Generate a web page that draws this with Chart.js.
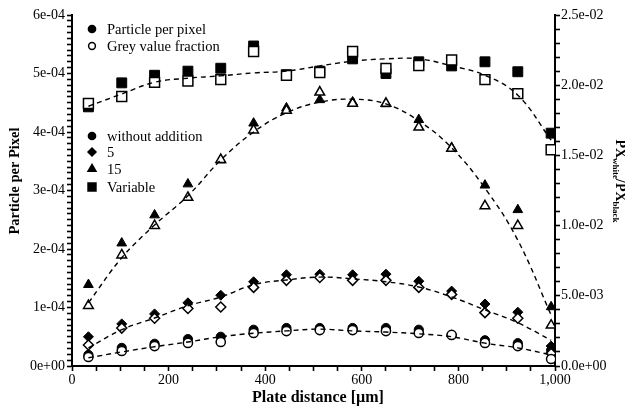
<!DOCTYPE html>
<html>
<head>
<meta charset="utf-8">
<script src="https://cdn.jsdelivr.net/npm/chart.js@4.4.1/dist/chart.umd.min.js"></script>
<style>
    body { margin: 0; background: #fff; }
    canvas { display: block; }
</style>
</head>
<body>
<canvas id="plate" width="625" height="411"></canvas>
<script>
// plate distance in µm
const distance = [34, 103, 171, 240, 308, 376, 444, 513, 581, 650, 718, 786, 855, 923, 992]

// particle per pixel (left axis, filled markers)
const ppNone = [0.19e-4, 0.31e-4, 0.38e-4, 0.46e-4, 0.50e-4, 0.62e-4, 0.65e-4, 0.65e-4, 0.65e-4, 0.65e-4, 0.62e-4, 0.53e-4, 0.44e-4, 0.39e-4, 0.27e-4]
const pp5 = [0.50e-4, 0.72e-4, 0.89e-4, 1.08e-4, 1.21e-4, 1.44e-4, 1.56e-4, 1.57e-4, 1.56e-4, 1.57e-4, 1.45e-4, 1.28e-4, 1.06e-4, 0.92e-4, 0.34e-4]
const pp15 = [1.39e-4, 2.10e-4, 2.58e-4, 3.11e-4, 3.52e-4, 4.15e-4, 4.41e-4, 4.55e-4, 4.51e-4, 4.48e-4, 4.21e-4, 3.73e-4, 3.09e-4, 2.67e-4, 1.01e-4]
const ppVariable = [4.43e-4, 4.84e-4, 4.97e-4, 5.04e-4, 5.09e-4, 5.47e-4, 4.98e-4, 5.04e-4, 5.25e-4, 5.00e-4, 5.20e-4, 5.13e-4, 5.20e-4, 5.03e-4, 3.98e-4]

// grey value fraction PXwhite/PXblack (right axis, open markers)
const gvNone = [0.00064, 0.00107, 0.00142, 0.00164, 0.00171, 0.00235, 0.00249, 0.00256, 0.00256, 0.00249, 0.00235, 0.00221, 0.00164, 0.00142, 0.00050]
const gv5 = [0.0015, 0.0027, 0.0034, 0.0041, 0.0042, 0.0056, 0.0061, 0.0063, 0.0061, 0.0061, 0.0056, 0.0051, 0.0038, 0.0034, 0.0009]
const gv15 = [0.0043, 0.0079, 0.0100, 0.0120, 0.0147, 0.0168, 0.0182, 0.0195, 0.0187, 0.0187, 0.0170, 0.0155, 0.0114, 0.0100, 0.0029]
const gvVariable = [0.0187, 0.0192, 0.0202, 0.0203, 0.0204, 0.0224, 0.0207, 0.0209, 0.0224, 0.0212, 0.0214, 0.0218, 0.0204, 0.0194, 0.0154]

// dashed fit curves (left axis units)
const fitNone = [0.14e-4, 0.24e-4, 0.33e-4, 0.41e-4, 0.50e-4, 0.56e-4, 0.60e-4, 0.63e-4, 0.60e-4, 0.58e-4, 0.55e-4, 0.50e-4, 0.39e-4, 0.31e-4, 0.19e-4]
const fit5 = [0.31e-4, 0.62e-4, 0.82e-4, 1.03e-4, 1.18e-4, 1.39e-4, 1.47e-4, 1.52e-4, 1.49e-4, 1.44e-4, 1.35e-4, 1.18e-4, 0.96e-4, 0.74e-4, 0.44e-4]
const fit15 = [1.08e-4, 1.85e-4, 2.41e-4, 2.91e-4, 3.52e-4, 4.00e-4, 4.33e-4, 4.51e-4, 4.56e-4, 4.48e-4, 4.19e-4, 3.73e-4, 3.04e-4, 2.15e-4, 0.87e-4]
const fitVariable = [4.44e-4, 4.65e-4, 4.85e-4, 4.92e-4, 4.96e-4, 5.01e-4, 5.04e-4, 5.13e-4, 5.21e-4, 5.25e-4, 5.25e-4, 5.13e-4, 4.97e-4, 4.63e-4, 3.86e-4]

const serif = '"Liberation Serif", "Times New Roman", serif'

function pts(values) {
    return distance.map((x, i) => ({ x: x, y: values[i] }))
}

function sci(v, digits) {
    const parts = v.toExponential(digits).split('e')
    const n = Number(parts[1])
    return parts[0] + 'e' + (n < 0 ? '-' : '+') + String(Math.abs(n)).padStart(2, '0')
}

function fit(values) {
    return {
        data: pts(values),
        showLine: true,
        pointRadius: 0,
        borderColor: '#000',
        borderWidth: 1.4,
        borderDash: [5, 4],
        tension: 0.4,
        yAxisID: 'y',
        order: 0
    }
}

function marker(values, style, radius, open) {
    return {
        data: pts(values),
        pointStyle: style,
        pointRadius: radius,
        pointBackgroundColor: open ? '#fff' : '#000',
        pointBorderColor: '#000',
        pointBorderWidth: open ? 1.5 : 1,
        showLine: false,
        yAxisID: open ? 'y2' : 'y',
        order: open ? 1 : 2
    }
}

const extras = {
    id: 'extras',
    afterDraw(chart) {
        const ctx = chart.ctx
        ctx.save()
        ctx.fillStyle = '#000'
        ctx.strokeStyle = '#000'

        // legend
        const items = [
            { y: 29, text: 'Particle per pixel', style: 'circle', r: 3.6, open: false },
            { y: 46, text: 'Grey value fraction', style: 'circle', r: 3.4, open: true },
            { y: 136, text: 'without addition', style: 'circle', r: 3.6, open: false },
            { y: 152, text: '5', style: 'rectRot', r: 4, open: false },
            { y: 169, text: '15', style: 'triangle', r: 4.6, open: false },
            { y: 187, text: 'Variable', style: 'rect', r: 5.6, open: false }
        ]
        items.forEach(item => {
            ctx.fillStyle = item.open ? '#fff' : '#000'
            ctx.lineWidth = 1.5
            Chart.helpers.drawPoint(ctx, { pointStyle: item.style, radius: item.r, borderWidth: 1.5, rotation: 0 }, 92, item.y)
            ctx.fillStyle = '#000'
            ctx.font = '14.5px ' + serif
            ctx.textBaseline = 'middle'
            ctx.textAlign = 'left'
            ctx.fillText(item.text, 107, item.y + 1)
        })

        // axis titles
        ctx.font = 'bold 16px ' + serif
        ctx.textAlign = 'center'
        ctx.textBaseline = 'alphabetic'
        ctx.fillText('Plate distance [µm]', 318, 402)

        ctx.save()
        ctx.font = 'bold 14.5px ' + serif
        ctx.translate(15, 181)
        ctx.rotate(-Math.PI / 2)
        ctx.textBaseline = 'middle'
        ctx.fillText('Particle per Pixel', 0, 0)
        ctx.restore()

        const parts = [
            ['PX', 'bold 14px ', 0],
            ['white', 'bold 9px ', 3],
            ['/', 'bold 14px ', 0],
            ['PX', 'bold 14px ', 0],
            ['black', 'bold 9px ', 3]
        ]
        ctx.save()
        ctx.translate(620, 181)
        ctx.rotate(Math.PI / 2)
        ctx.textAlign = 'left'
        let total = 0
        parts.forEach(p => { ctx.font = p[1] + serif; total += ctx.measureText(p[0]).width })
        let pos = -total / 2
        parts.forEach(p => {
            ctx.font = p[1] + serif
            ctx.fillText(p[0], pos, 4.5 + p[2])
            pos += ctx.measureText(p[0]).width
        })
        ctx.restore()

        ctx.restore()
    }
}

const axisGrid = { drawOnChartArea: false, drawTicks: true, tickLength: 5, tickColor: '#000', tickWidth: 1.6, color: '#000' }
const axisBorder = { color: '#000', width: 2 }
const tickFont = { family: serif, size: 14 }

new Chart('plate', {
    type: 'scatter',
    data: {
        datasets: [
            fit(fitNone), fit(fit5), fit(fit15), fit(fitVariable),
            marker(gvNone, 'circle', 4.6, true),
            marker(gv5, 'rectRot', 5, true),
            marker(gv15, 'triangle', 5.6, true),
            marker(gvVariable, 'rect', 7, true),
            marker(ppNone, 'circle', 4.6, false),
            marker(pp5, 'rectRot', 5, false),
            marker(pp15, 'triangle', 5.6, false),
            marker(ppVariable, 'rect', 7, false)
        ]
    },
    options: {
        responsive: false,
        animation: false,
        devicePixelRatio: 1,
        layout: { padding: { top: 15, left: 0, right: 0, bottom: 0 } },
        plugins: { legend: { display: false }, tooltip: { enabled: false } },
        scales: {
            x: {
                type: 'linear',
                position: 'bottom',
                min: 0,
                max: 1000,
                grid: axisGrid,
                border: axisBorder,
                ticks: {
                    stepSize: 50,
                    autoSkip: false,
                    maxRotation: 0,
                    padding: 1,
                    color: '#000',
                    font: tickFont,
                    callback: v => Math.round(v) % 200 === 0 ? Math.round(v).toLocaleString('en-US') : ''
                },
                afterFit: s => { s.height = 45 }
            },
            y: {
                position: 'left',
                min: 0,
                max: 6e-4,
                grid: axisGrid,
                border: axisBorder,
                ticks: {
                    stepSize: 1e-5,
                    autoSkip: false,
                    padding: 2,
                    color: '#000',
                    font: tickFont,
                    callback: v => {
                        const k = Math.round(v / 1e-5)
                        return k % 10 === 0 ? sci(k * 1e-5, 0) : ''
                    }
                },
                afterFit: s => { s.width = 72 }
            },
            y2: {
                position: 'right',
                min: 0,
                max: 0.025,
                grid: axisGrid,
                border: axisBorder,
                ticks: {
                    stepSize: 0.001,
                    autoSkip: false,
                    padding: 1,
                    color: '#000',
                    font: tickFont,
                    callback: v => {
                        const k = Math.round(v / 0.001)
                        return k % 5 === 0 ? sci(k * 0.001, 1) : ''
                    }
                },
                afterFit: s => { s.width = 70 }
            }
        }
    },
    plugins: [extras]
})
</script>
</body>
</html>
